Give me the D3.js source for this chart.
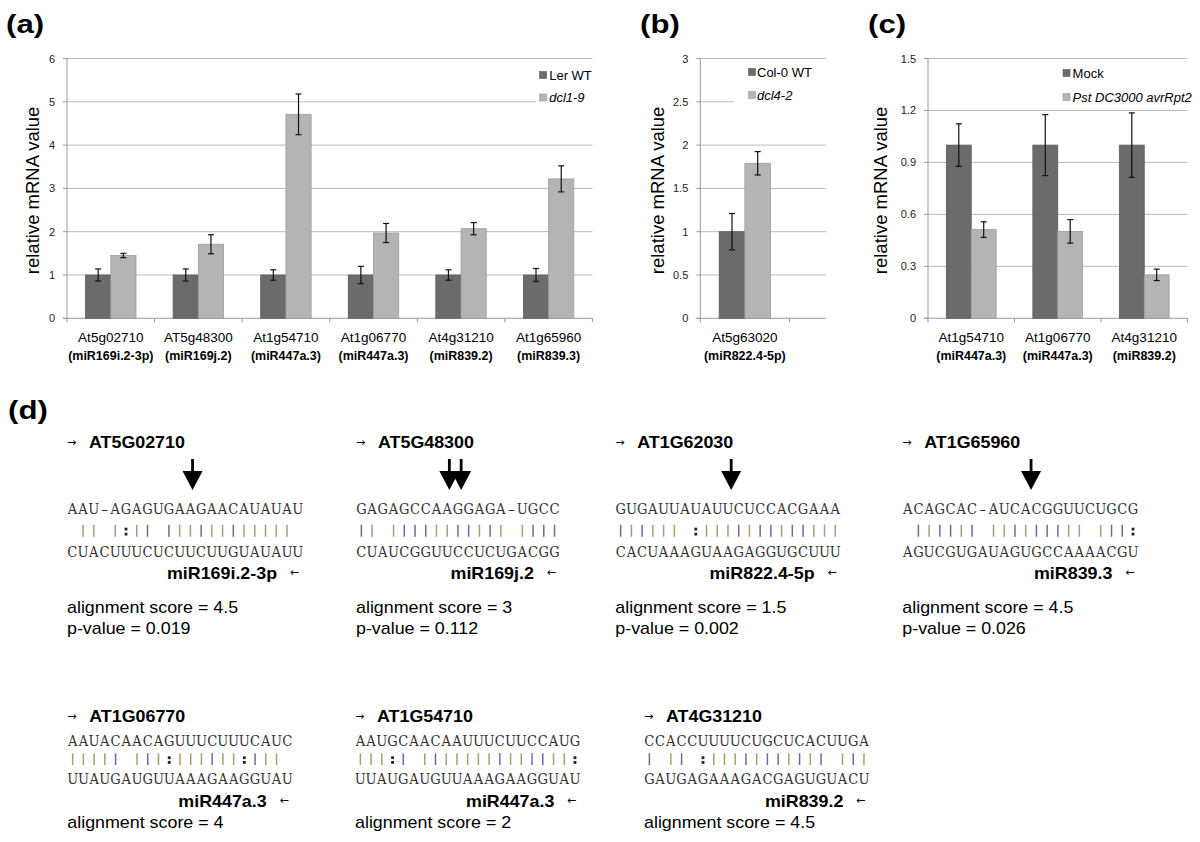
<!DOCTYPE html>
<html><head><meta charset="utf-8">
<script src="https://cdn.jsdelivr.net/npm/d3@7"></script>
<style>html,body{margin:0;padding:0;background:#fff}svg{display:block}</style>
</head><body>
<svg id="c" width="1200" height="842"></svg>
<script>
// ---------------- DATA ----------------
// Panel (a)
const catsA = ["At5g02710","AT5g48300","At1g54710","At1g06770","At4g31210","At1g65960"];
const subsA = ["(miR169i.2-3p)","(miR169j.2)","(miR447a.3)","(miR447a.3)","(miR839.2)","(miR839.3)"];
const seriesA = ["Ler WT","dcl1-9"];
const wtA = [1,1,1,1,1,1];
const wtErrA = [0.14,0.14,0.12,0.2,0.12,0.15];
const mutA = [1.45,1.71,4.71,1.97,2.07,3.22];
const mutErrA = [0.05,0.22,0.47,0.22,0.14,0.3];
const ticksA = [0,1,2,3,4,5,6];
const tickLabA = ["0","1","2","3","4","5","6"];
// Panel (b)
const catsB = ["At5g63020"];
const subsB = ["(miR822.4-5p)"];
const seriesB = ["Col-0 WT","dcl4-2"];
const wtB = [1.0];
const wtErrB = [0.21];
const mutB = [1.79];
const mutErrB = [0.135];
const ticksB = [0,0.5,1,1.5,2,2.5,3];
const tickLabB = ["0","0.5","1","1.5","2","2.5","3"];
// Panel (c)
const catsC = ["At1g54710","At1g06770","At4g31210"];
const subsC = ["(miR447a.3)","(miR447a.3)","(miR839.2)"];
const seriesC = ["Mock","Pst DC3000 avrRpt2"];
const mockC = [1,1,1];
const mockErrC = [0.123,0.176,0.186];
const pstC = [0.512,0.502,0.251];
const pstErrC = [0.045,0.068,0.033];
const ticksC = [0,0.3,0.6,0.9,1.2,1.5];
const tickLabC = ["0","0.3","0.6","0.9","1.2","1.5"];
// Panel (d)
const genes = ["AT5G02710","AT5G48300","AT1G62030","AT1G65960","AT1G06770","AT1G54710","AT4G31210"];
const mirnas = ["miR169i.2-3p","miR169j.2","miR822.4-5p","miR839.3","miR447a.3","miR447a.3","miR839.2"];
const targetSeqs = ["AAU-AGAGUGAAGAACAUAUAU","GAGAGCCAAGGAGA-UGCC","GUGAUUAUAUUCUCCACGAAA","ACAGCAC-AUCACGGUUCUGCG",
                    "AAUACAACAGUUUCUUUCAUC","AAUGCAACAAUUUCUUCCAUG","CCACCUUUUCUGCUCACUUGA"];
const pairLines = [" || |:|| |||||||||||| ","|| ||||||||||| ||||","|||||| :|||||||||||||"," |||||| ||||||||| |||:",
                   "||||| |||:||||||:||| ","|||:| ||||||||||||||:","| || :||||||||||| |||"];
const mirSeqs = ["CUACUUUCUCUUCUUGUAUAUU","CUAUCGGUUCCUCUGACGG","CACUAAAGUAAGAGGUGCUUU","AGUCGUGAUAGUGCCAAAACGU",
                 "UUAUGAUGUUAAAGAAGGUAU","UUAUGAUGUUAAAGAAGGUAU","GAUGAGAAAGACGAGUGUACU"];
const scores = ["4.5","3","1.5","4.5","4","2","4.5"];
const pvalues = ["0.019","0.112","0.002","0.026",null,null,null];
const cleavageSites = [[11.7],[8.7,9.8],[10.8],[12.0],[],[],[]];

// ---------------- RENDER ----------------
const svg = d3.select("#c");
const SANS = "'Liberation Sans', Arial, Helvetica, sans-serif";
const SEQF = "'DejaVu Serif', serif";
const ARW = "'DejaVu Sans', sans-serif";

function txt(g, x, y, s, o = {}) {
  return g.append("text")
    .attr("transform", `translate(${x},${y}) scale(${o.sx || 1},1)`)
    .attr("font-family", o.ff || SANS)
    .attr("font-size", o.fs || 12)
    .attr("font-weight", o.fw || "normal")
    .attr("font-style", o.fst || "normal")
    .attr("text-anchor", o.anchor || "start")
    .attr("fill", o.fill || "#000")
    .text(s);
}

const TOP = 58.5, BOT = 318.3;
const DARK = "#6b6b6b", LIGHT = "#b4b4b4";

const panels = [
  {label:"(a)", lx:6, x0:67, x1:592.4, xr1:592.4, nb:6, cats:catsA, subs:subsA, names:seriesA,
   v1:wtA, e1:wtErrA, v2:mutA, e2:mutErrA, ticks:ticksA, tlab:tickLabA, ital:[false,true],
   leg:{bx:535.8, bw:64, sx:539.6, tx:549.2, y1:75, y2:97.5}, tyx:38.5},
  {label:"(b)", lx:640, x0:700.3, x1:825.8, xr1:878.5, nb:2, cats:catsB, subs:subsB, names:seriesB,
   v1:wtB, e1:wtErrB, v2:mutB, e2:mutErrB, ticks:ticksB, tlab:tickLabB, ital:[false,true],
   leg:{bx:734, bw:96, sx:748.5, tx:757, y1:72, y2:95}, tyx:663.5},
  {label:"(c)", lx:868, x0:928, x1:1187.5, xr1:1187.5, nb:3, cats:catsC, subs:subsC, names:seriesC,
   v1:mockC, e1:mockErrC, v2:pstC, e2:pstErrC, ticks:ticksC, tlab:tickLabC, ital:[false,true],
   leg:{bx:1058, bw:140, sx:1063, tx:1072.6, y1:73, y2:97}, tyx:887}
];

panels.forEach(p => {
  const g = svg.append("g");
  const y = d3.scaleLinear().domain([0, d3.max(p.ticks)]).range([BOT, TOP]);
  const x = d3.scaleBand().domain(d3.range(p.nb)).range([p.x0, p.xr1]).padding(0);
  const bw = x.bandwidth();
  const xs = d3.scaleBand().domain([0,1]).range([bw*0.212, bw*0.788]);

  g.selectAll("line.grid").data(p.ticks.filter(t => t > 0)).join("line")
    .attr("x1", p.x0).attr("x2", p.x1).attr("y1", d => y(d)).attr("y2", d => y(d))
    .attr("stroke", "#b9b9b9").attr("stroke-width", 1);
  g.append("line").attr("x1", p.x0).attr("x2", p.x0).attr("y1", y(d3.max(p.ticks))).attr("y2", BOT)
    .attr("stroke", "#9a9a9a");
  g.selectAll("line.yt").data(p.ticks).join("line")
    .attr("x1", p.x0 - 4).attr("x2", p.x0).attr("y1", d => y(d)).attr("y2", d => y(d)).attr("stroke", "#9a9a9a");
  g.append("line").attr("x1", p.x0 - 4).attr("x2", p.x1).attr("y1", BOT).attr("y2", BOT).attr("stroke", "#9a9a9a");
  const bounds = d3.range(p.nb + 1).map(i => p.x0 + i * bw).filter(v => v <= p.x1 + 0.5);
  g.selectAll("line.xt").data(bounds).join("line")
    .attr("x1", d => d).attr("x2", d => d).attr("y1", BOT).attr("y2", BOT + 4).attr("stroke", "#9a9a9a");
  p.ticks.forEach((t, i) => txt(g, p.x0 - 12, y(t) + 4, p.tlab[i], {fs:11, anchor:"end", fill:"#222"}));

  const rows = p.v1.map((v, i) => ({i, v1:v, e1:p.e1[i], v2:p.v2[i], e2:p.e2[i]}));
  rows.forEach(r => {
    [[r.v1, r.e1, 0, DARK, "#5c5c5c"], [r.v2, r.e2, 1, LIGHT, "#9c9c9c"]].forEach(([v, e, s, fill, st]) => {
      const bx = x(r.i) + xs(s);
      g.append("rect").attr("x", bx).attr("y", y(v)).attr("width", xs.bandwidth()).attr("height", y(0) - y(v))
        .attr("fill", fill).attr("stroke", st).attr("stroke-width", 0.8);
      const cx = bx + xs.bandwidth() / 2;
      g.append("line").attr("x1", cx).attr("x2", cx).attr("y1", y(v + e)).attr("y2", y(v - e))
        .attr("stroke", "#111").attr("stroke-width", 1.2);
      [v + e, v - e].forEach(ev => g.append("line").attr("x1", cx - 3).attr("x2", cx + 3)
        .attr("y1", y(ev)).attr("y2", y(ev)).attr("stroke", "#111").attr("stroke-width", 1.2));
    });
  });

  p.cats.forEach((c, i) => {
    const cx = x(i) + bw / 2;
    txt(g, cx, 341.5, c, {fs:13, anchor:"middle", sx:1.04});
    txt(g, cx, 360, p.subs[i], {fs:12, fw:"bold", anchor:"middle", sx:1.04});
  });

  const L = p.leg;
  g.append("rect").attr("x", L.bx).attr("y", 62).attr("width", L.bw).attr("height", 46).attr("fill", "#fff");
  [[L.y1, DARK, "#5c5c5c"], [L.y2, LIGHT, "#9c9c9c"]].forEach(([cy, f, st], k) => {
    g.append("rect").attr("x", L.sx).attr("y", cy - 3.5).attr("width", 7).attr("height", 7)
      .attr("fill", f).attr("stroke", st).attr("stroke-width", 0.6);
    txt(g, L.tx, cy + 4.5, p.names[k], {fs:12.5, fst: p.ital[k] ? "italic" : "normal", sx:1.04});
  });

  g.append("text").attr("transform", `translate(${p.tyx},${(TOP + BOT) / 2 + 2}) rotate(-90)`)
    .attr("font-family", SANS).attr("font-size", 18.5).attr("text-anchor", "middle").text("relative mRNA value");

  txt(svg, p.lx, 33, p.label, {fs:26, fw:"bold", sx:1.2});
});

// ---------- Panel (d) ----------
txt(svg, 8, 419, "(d)", {fs:26, fw:"bold", sx:1.2});

const CW = 10.73;
const blockX = [67, 356, 615.3, 902.3, 67.3, 355, 644];
const rowOf = [0,0,0,0,1,1,1];
const rowY = [
  {head:448.4, seq:513.5, bar0:524.7, bar1:536.7, bot:556.5, mir:579, s1:613, s2:634},
  {head:721.7, seq:745.5, bar0:753.3, bar1:765, bot:783.8, mir:806.7, s1:828, s2:850}
];
const AU = "#ad9c6f", GC = "#6e69a3";
function pairColor(a, b) {
  const p = a + b;
  return (p === "GC" || p === "CG") ? GC : AU;
}

genes.forEach((gname, k) => {
  const g = svg.append("g");
  const x0 = blockX[k], R = rowY[rowOf[k]];
  const top = targetSeqs[k], bot = mirSeqs[k], mid = pairLines[k];
  const cx = d3.scaleLinear().domain([0, 1]).range([x0 + CW / 2, x0 + CW * 1.5]);
  const seqEnd = x0 + top.length * CW;

  txt(g, x0, R.head - 2, "→", {ff:ARW, fs:11});
  txt(g, x0 + 22, R.head, gname, {fs:17, fw:"bold", sx:1.05});

  cleavageSites[k].forEach(s => {
    const ax = x0 + s * CW;
    g.append("rect").attr("x", ax - 1.4).attr("y", 459).attr("width", 2.8).attr("height", 14).attr("fill", "#000");
    g.append("path").attr("d", `M${ax - 10},471 L${ax + 10},471 L${ax},490 Z`).attr("fill", "#000");
  });

  const glyph = ch => ch === "-" ? "\u2013" : ch;
  const seqOpt = {ff:SEQF, fs:15.6, anchor:"middle", fill:"#333", sx:0.84};
  top.split("").forEach((ch, i) => txt(g, cx(i), R.seq, glyph(ch), seqOpt));
  bot.split("").forEach((ch, i) => txt(g, cx(i), R.bot, glyph(ch), seqOpt));
  mid.split("").forEach((ch, i) => {
    if (ch === "|") {
      g.append("line").attr("x1", cx(i)).attr("x2", cx(i)).attr("y1", R.bar0).attr("y2", R.bar1)
        .attr("stroke", pairColor(top[i], bot[i])).attr("stroke-width", 1.5);
    } else if (ch === ":") {
      [R.bar0 + 3, R.bar1 - 4].forEach(yy => g.append("rect").attr("x", cx(i) - 1.4).attr("y", yy)
        .attr("width", 2.8).attr("height", 2.8).attr("fill", "#222"));
    }
  });

  txt(g, seqEnd - 26, R.mir, mirnas[k], {fs:17, fw:"bold", anchor:"end", sx:1.05});
  txt(g, seqEnd - 4, R.mir - 3, "←", {ff:ARW, fs:11, anchor:"end"});

  txt(g, x0, R.s1, "alignment score = " + scores[k], {fs:17, sx:1.05});
  if (pvalues[k] !== null) txt(g, x0, R.s2, "p-value = " + pvalues[k], {fs:17, sx:1.05});
});
</script>
</body></html>
